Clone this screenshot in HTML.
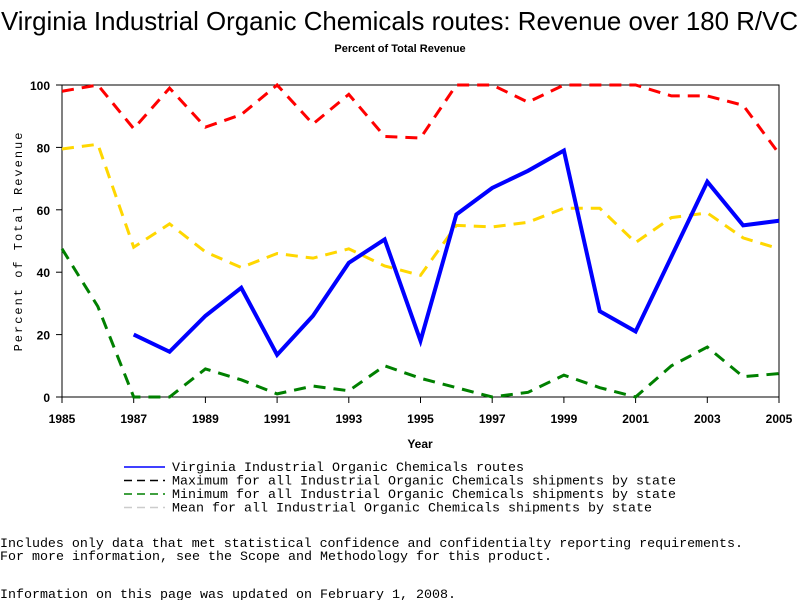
<!DOCTYPE html>
<html><head><meta charset="utf-8"><style>
body{margin:0;background:#fff;width:800px;height:600px;overflow:hidden}
svg text{font-family:"Liberation Mono",monospace}
</style></head><body>
<svg width="800" height="600" id="c">
<text x="1" y="30" textLength="797" lengthAdjust="spacingAndGlyphs" font-size="26" style="font-family:'Liberation Sans',sans-serif">Virginia Industrial Organic Chemicals routes: Revenue over 180 R/VC</text>
<text x="400" y="52" text-anchor="middle" font-size="11" font-weight="bold" style="font-family:'Liberation Sans',sans-serif">Percent of Total Revenue</text>
<rect x="62" y="85" width="717" height="312" fill="none" stroke="#000"/>
<g id="ax"></g><g id="series"></g>
<text x="420" y="448" text-anchor="middle" font-size="12" font-weight="bold" style="font-family:'Liberation Sans',sans-serif">Year</text>
<text transform="translate(22,241) rotate(-90)" text-anchor="middle" font-size="12" letter-spacing="2">Percent of Total Revenue</text>
<g id="legend" font-size="13"></g>
<text x="0" y="547" font-size="13" textLength="743" lengthAdjust="spacingAndGlyphs">Includes only data that met statistical confidence and confidentialty reporting requirements.</text>
<text x="0" y="560" font-size="13" textLength="552" lengthAdjust="spacingAndGlyphs">For more information, see the Scope and Methodology for this product.</text>
<text x="0" y="598" font-size="13" textLength="456" lengthAdjust="spacingAndGlyphs">Information on this page was updated on February 1, 2008.</text>
</svg>
<script>
const years=[1985,1986,1987,1988,1989,1990,1991,1992,1993,1994,1995,1996,1997,1998,1999,2000,2001,2002,2003,2004,2005];
const virginia=[null,null,20,14.5,26,35,13.5,26,43,50.5,18,58.5,67,72.5,79,27.5,21,45,69,55,56.5];
const maximum=[98,100,86,99,86.5,90.5,100,87.5,97,83.5,83,100,100,94.5,100,100,100,96.5,96.5,93.5,78];
const minimum=[47.5,29,0,0,9,5.5,1,3.5,2,10,6,3,0,1.5,7,3,0,10,16,6.5,7.5];
const mean=[79.5,81,48,55.5,46.5,41.5,46,44.5,47.5,42,39,55,54.5,56,60.5,60.5,49.5,57.5,59,51,47.5];
const yTicks=[0,20,40,60,80,100];
const xTicks=[1985,1987,1989,1991,1993,1995,1997,1999,2001,2003,2005];
const legendLabels=["Virginia Industrial Organic Chemicals routes","Maximum for all Industrial Organic Chemicals shipments by state","Minimum for all Industrial Organic Chemicals shipments by state","Mean for all Industrial Organic Chemicals shipments by state"];
const NS="http://www.w3.org/2000/svg";
const X=y=>62+(y-1985)*717/20, Y=v=>397-v*3.12;
function mk(t,a,p){const e=document.createElementNS(NS,t);for(const k in a)e.setAttribute(k,a[k]);p.appendChild(e);return e;}
const ax=document.getElementById('ax');
yTicks.forEach(v=>{mk('line',{x1:56,x2:62,y1:Y(v),y2:Y(v),stroke:'#000'},ax);
const t=mk('text',{x:50,y:Y(v)+5,'text-anchor':'end','font-size':12,'font-weight':'bold',style:"font-family:'Liberation Sans',sans-serif"},ax);t.textContent=v;

});
xTicks.forEach(v=>{mk('line',{x1:X(v),x2:X(v),y1:397,y2:403,stroke:'#000'},ax);
const t=mk('text',{x:X(v),y:423,'text-anchor':'middle','font-size':12,'font-weight':'bold',style:"font-family:'Liberation Sans',sans-serif"},ax);t.textContent=v;

});
const sg=document.getElementById('series');
const defs=[[mean,'#ffd700','12 8',3,'mean-line'],[minimum,'#008000','12 8',3,'minimum-line'],[maximum,'#ff0000','12 8',3,'maximum-line'],[virginia,'#0000ff','',4,'virginia-line']];
defs.forEach(([d,c,da,w,n])=>{let p='';d.forEach((v,i)=>{if(v==null)return;p+=(p?'L':'M')+X(years[i])+' '+Y(v);});
const e=mk('path',{d:p,fill:'none',stroke:c,'stroke-width':w,'stroke-dasharray':da},sg);

});
const lg=document.getElementById('legend');
const lc=[['#0000ff',''],['#000','8 5'],['#008000','8 5'],['#ccc','8 5']];
const lw=[352,504,504,480];
legendLabels.forEach((l,i)=>{const y=467+i*13.5;
const g=mk('g',{},lg);


mk('line',{x1:124,x2:165,y1:y,y2:y,stroke:lc[i][0],'stroke-width':1.5,'stroke-dasharray':lc[i][1]},g);
const t=mk('text',{x:172,y:y+4,textLength:lw[i],lengthAdjust:'spacingAndGlyphs'},g);t.textContent=l;});
</script>
</body></html>
